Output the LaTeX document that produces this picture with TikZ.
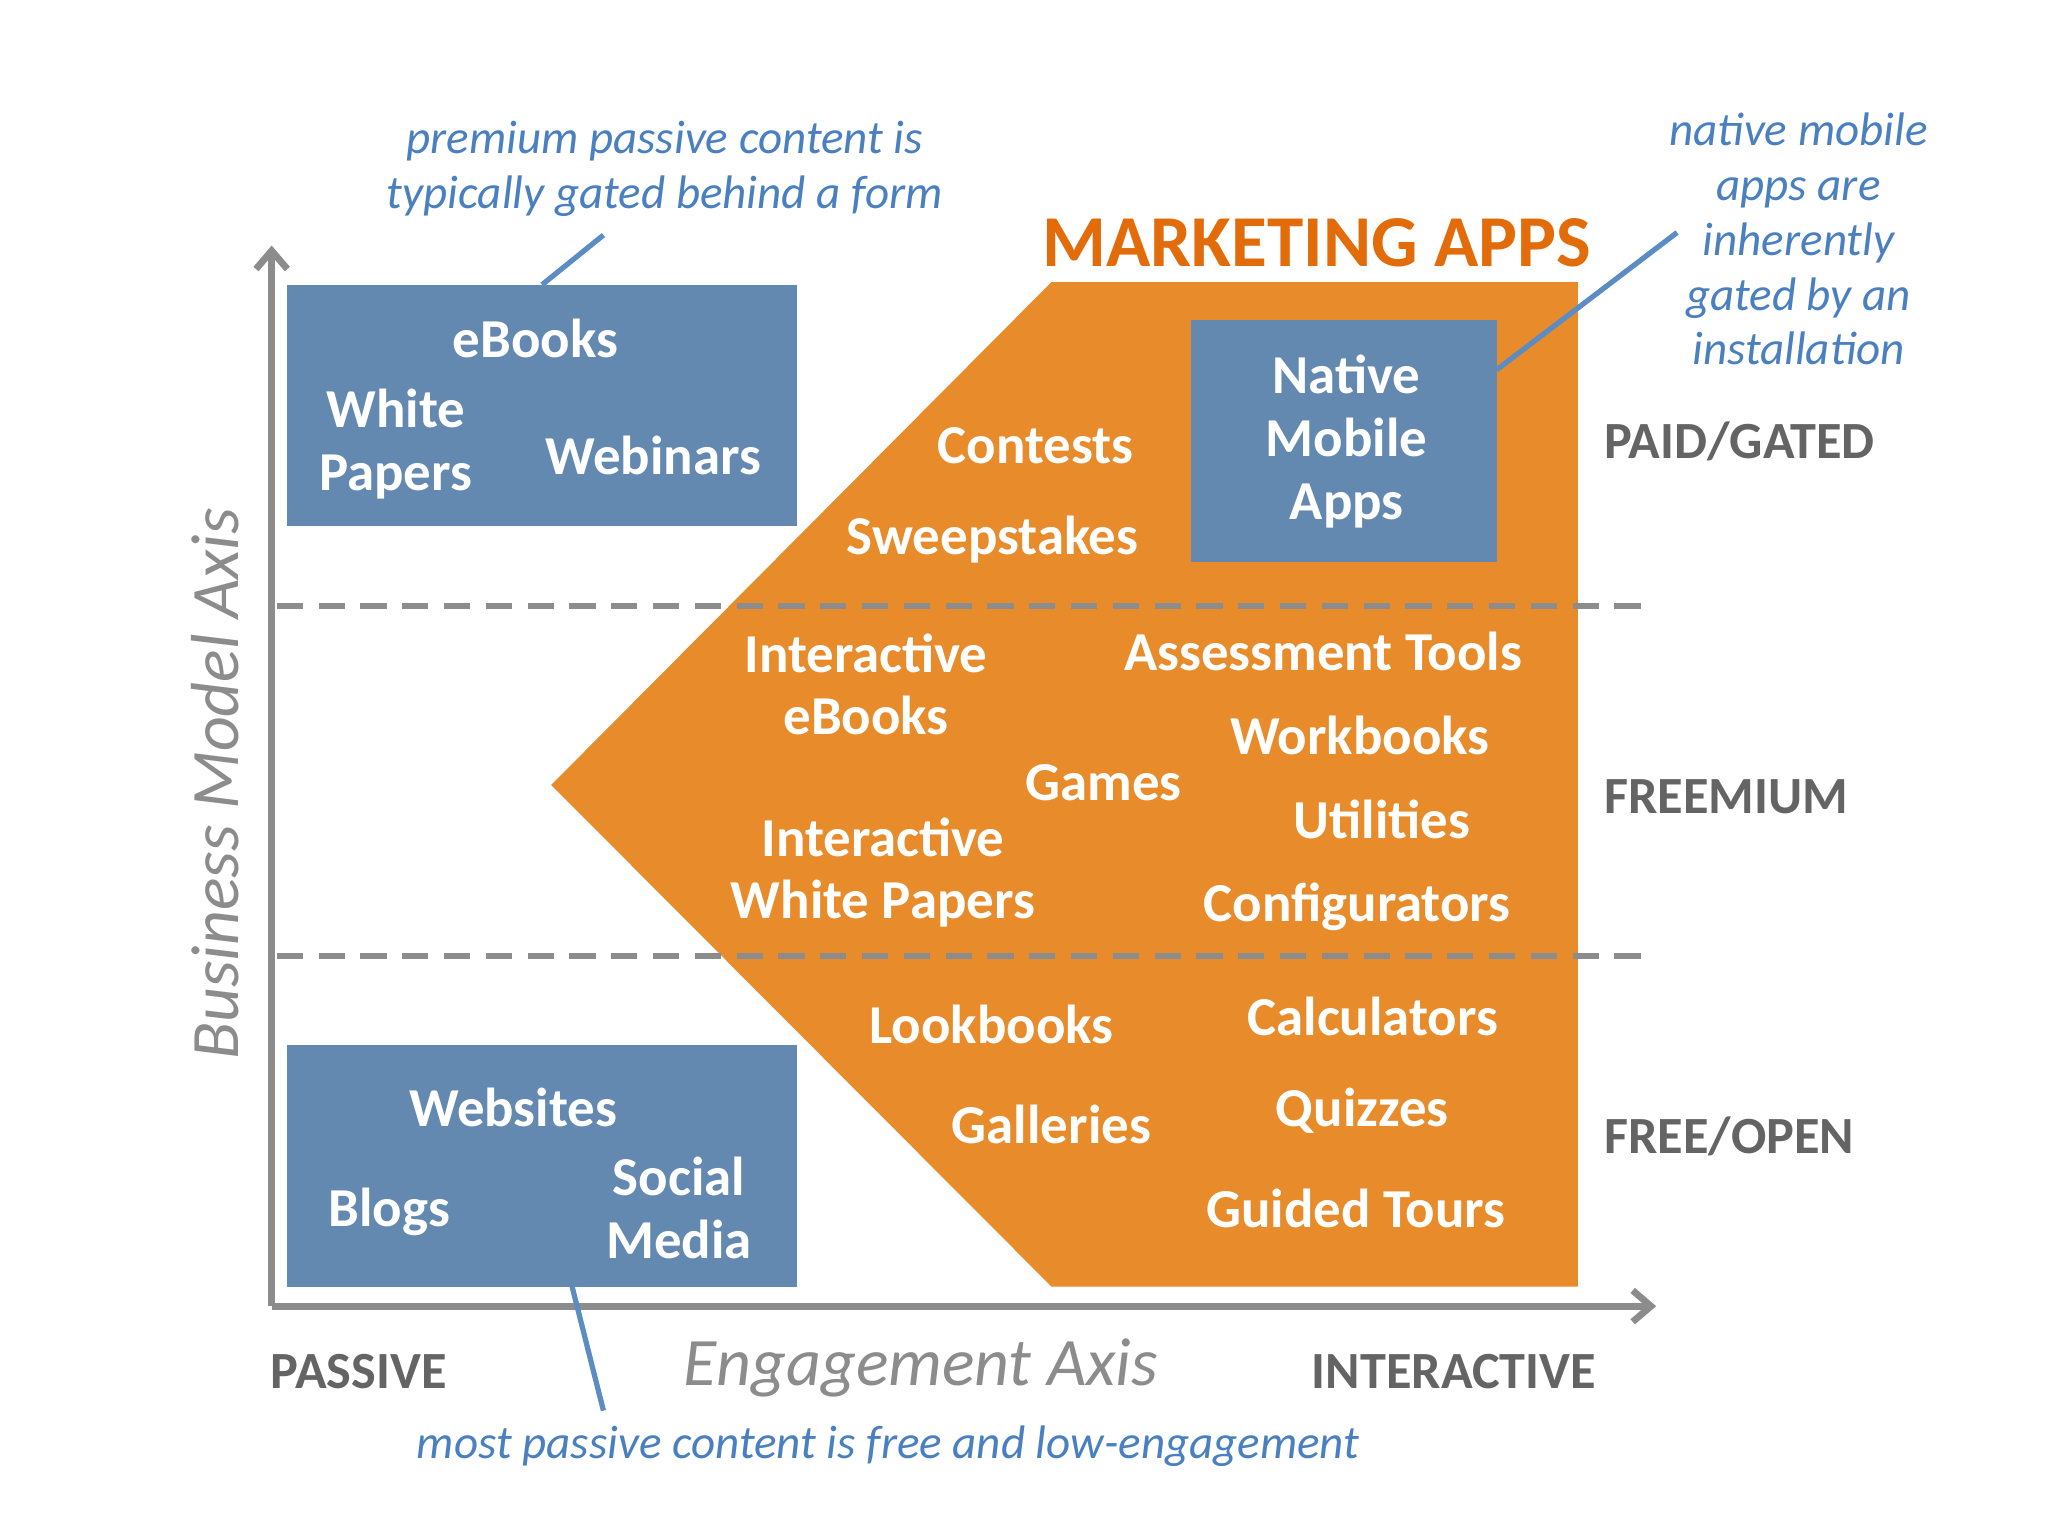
\documentclass[tikz,border=0pt]{standalone}
\usepackage{fontspec}
\usetikzlibrary{arrows.meta}
\setmainfont{Carlito}
\begin{document}
\begin{tikzpicture}[x=0.5pt,y=-0.5pt,
  wt/.style={text=white,font=\fontsize{21}{24}\selectfont\bfseries,align=center,inner sep=0},
  gl/.style={text=graytxt,font=\fontsize{20}{24}\selectfont\bfseries,anchor=west,inner sep=0},
  bl/.style={text=calltxt,font=\fontsize{18}{21}\selectfont\itshape,align=center,inner sep=0},
  cl/.style={draw=callline,line width=2pt},
  box/.style={fill=boxblue,draw=none}]
\definecolor{boxblue}{RGB}{99,137,176}
\definecolor{orng}{RGB}{232,139,42}
\definecolor{axisgray}{RGB}{140,140,140}
\definecolor{graytxt}{RGB}{100,100,100}
\definecolor{calltxt}{RGB}{74,128,192}
\definecolor{callline}{RGB}{91,140,196}
\definecolor{mkt}{RGB}{226,108,10}
\useasboundingbox (0,0) rectangle (1568,1176);
\fill[white] (0,0) rectangle (1568,1176);
% orange shape
\fill[orng] (805,216) -- (1208,216) -- (1208,985) -- (805,985) -- (422,601) -- cycle;
% boxes
\fill[box] (220,218) rectangle (610,403);
\fill[box] (220,800) rectangle (610,985);
\fill[box] (912,245) rectangle (1146,430);
% dashed
\coordinate (d1a) at (212,464); \coordinate (d1b) at (1258,464);
\coordinate (d2a) at (212,732); \coordinate (d2b) at (1258,732);
\draw[axisgray,line width=2.2pt,dash pattern=on 10pt off 6pt] (d1a) -- (d1b);
\draw[axisgray,line width=2.2pt,dash pattern=on 10pt off 6pt] (d2a) -- (d2b);
% axes
\coordinate (o) at (208,1000); \coordinate (yt) at (208,188); \coordinate (xt) at (1268,1000);
\draw[axisgray,line width=2.6pt,-{Straight Barb[length=7pt,width=12pt]}] (o) -- (yt);
\draw[axisgray,line width=2.6pt,-{Straight Barb[length=7pt,width=12pt]}] (o) -- (xt);
% box texts
\node[wt] (eb) at (410,259) {eBooks};
\node[wt] (wp) at (303,340) {White\\Papers};
\node[wt] (wb) at (500,349) {Webinars};
\node[wt] (ws) at (393,848) {Websites};
\node[wt] (bg) at (298,928) {Blogs};
\node[wt] (sm) at (520,925) {Social\\Media};
\node[wt] (nm) at (1031,338) {Native\\Mobile\\Apps};
% orange texts
\node[wt] (ct) at (793,341) {Contests};
\node[wt] (sw) at (760,413) {Sweepstakes};
\node[wt] (ie) at (663,524) {Interactive\\eBooks};
\node[wt] (iw) at (676,668) {Interactive\\White Papers};
\node[wt] (gm) at (845,599) {Games};
\node[wt] (at) at (1013,499) {Assessment Tools};
\node[wt] (wk) at (1041,563) {Workbooks};
\node[wt] (ut) at (1058,627) {Utilities};
\node[wt] (cf) at (1039,694) {Configurators};
\node[wt] (lb) at (759,784) {Lookbooks};
\node[wt] (ga) at (805,861) {Galleries};
\node[wt] (ca) at (1051,778) {Calculators};
\node[wt] (qz) at (1043,850) {Quizzes};
\node[wt] (gt) at (1038,925) {Guided Tours};
\node[text=mkt,font=\fontsize{28}{30}\selectfont\bfseries,inner sep=0] (ma) at (1008,186) {MARKETING APPS};
% gray labels
\node[gl] (pg) at (1228,338) {PAID/GATED};
\node[gl] (fm) at (1228,610) {FREEMIUM};
\node[gl] (fo) at (1228,870) {FREE/OPEN};
\node[gl] (pa) at (207,1050) {PASSIVE};
\node[gl] (in) at (1004,1050) {INTERACTIVE};
\node[text=axisgray,font=\fontsize{26}{30}\selectfont\itshape,inner sep=0] (ea) at (705,1047) {Engagement Axis};
\node[text=axisgray,font=\fontsize{26}{30}\selectfont\itshape,inner sep=0,rotate=90] (ba) at (165,600) {Business Model Axis};
% callouts
\node[bl] (c1) at (509,129) {premium passive content is\\typically gated behind a form};
\node[bl] (c2) at (1377,183) {native mobile\\apps are\\inherently\\gated by an\\installation};
\node[bl] (c3) at (680,1107) {most passive content is free and low-engagement};
\coordinate (l1a) at (415,218); \coordinate (l1b) at (462,180);
\coordinate (l2a) at (1146,283); \coordinate (l2b) at (1284,178);
\coordinate (l3a) at (438,985); \coordinate (l3b) at (462,1080);
\draw[cl] (l1a) -- (l1b);
\draw[cl] (l2a) -- (l2b);
\draw[cl] (l3a) -- (l3b);
\end{tikzpicture}
\end{document}
